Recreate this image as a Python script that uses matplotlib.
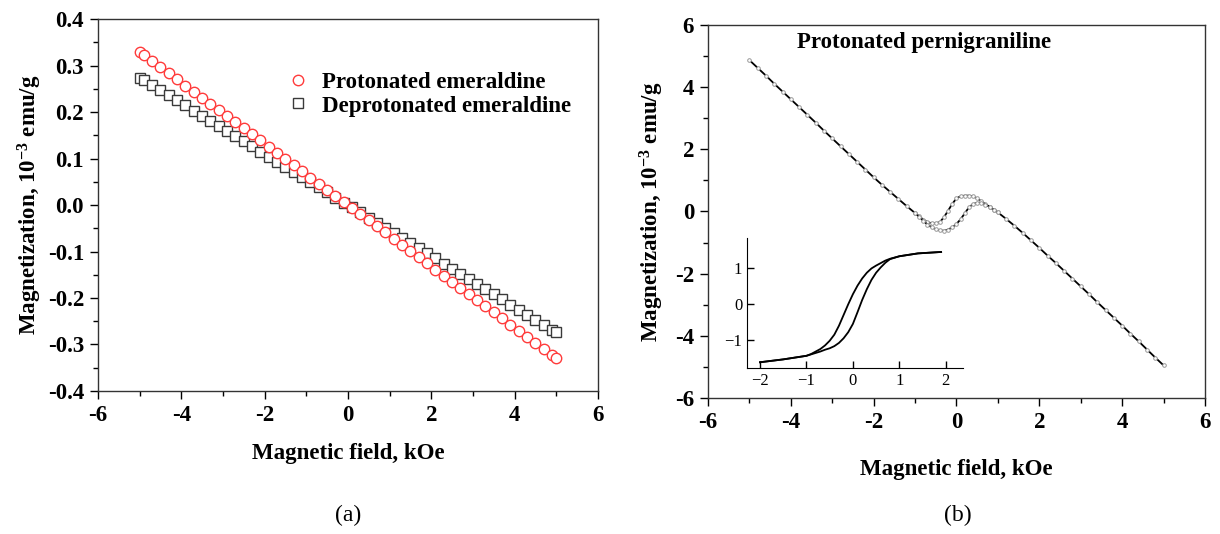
import matplotlib
matplotlib.use("Agg")
import matplotlib.pyplot as plt
from matplotlib.ticker import MultipleLocator, FormatStrFormatter

plt.rcParams['font.family'] = ['Liberation Serif', 'DejaVu Serif']
plt.rcParams['mathtext.fontset'] = 'custom'
plt.rcParams['mathtext.rm'] = 'Liberation Serif:bold'
plt.rcParams['mathtext.bf'] = 'Liberation Serif:bold'
plt.rcParams['mathtext.default'] = 'bf'
plt.rcParams['axes.unicode_minus'] = False

# ---------------- Panel (a) data ----------------
field_a = [-5.0, -4.9, -4.7, -4.5, -4.3, -4.1, -3.9, -3.7, -3.5, -3.3, -3.1, -2.9, -2.7,
           -2.5, -2.3, -2.1, -1.9, -1.7, -1.5, -1.3, -1.1, -0.9, -0.7, -0.5, -0.3, -0.1,
           0.1, 0.3, 0.5, 0.7, 0.9, 1.1, 1.3, 1.5, 1.7, 1.9, 2.1, 2.3, 2.5, 2.7, 2.9,
           3.1, 3.3, 3.5, 3.7, 3.9, 4.1, 4.3, 4.5, 4.7, 4.9, 5.0]
protonated = [0.330, 0.323, 0.310, 0.297, 0.284, 0.271, 0.257, 0.244, 0.231, 0.218, 0.205,
              0.191, 0.178, 0.165, 0.152, 0.139, 0.125, 0.112, 0.099, 0.086, 0.073, 0.059,
              0.046, 0.033, 0.020, 0.007,
              -0.007, -0.020, -0.033, -0.046, -0.059, -0.073, -0.086, -0.099, -0.112,
              -0.125, -0.139, -0.152, -0.165, -0.178, -0.191, -0.205, -0.218, -0.231,
              -0.244, -0.257, -0.271, -0.284, -0.297, -0.310, -0.323, -0.330]
deprotonated = [0.274, 0.269, 0.258, 0.247, 0.236, 0.225, 0.214, 0.203, 0.192, 0.181, 0.170,
                0.159, 0.148, 0.137, 0.126, 0.115, 0.104, 0.093, 0.082, 0.071, 0.060, 0.049,
                0.038, 0.027, 0.016, 0.005,
                -0.005, -0.016, -0.027, -0.038, -0.049, -0.060, -0.071, -0.082, -0.093,
                -0.104, -0.115, -0.126, -0.137, -0.148, -0.159, -0.170, -0.181, -0.192,
                -0.203, -0.214, -0.225, -0.236, -0.247, -0.258, -0.269, -0.274]
labels_a = ['Protonated emeraldine', 'Deprotonated emeraldine']

# ---------------- Panel (b) data ----------------
field_b_left = [-5.0, -4.8, -4.6, -4.4, -4.2, -4.0, -3.8, -3.6, -3.4, -3.2, -3.0, -2.8, -2.6,
                -2.4, -2.2, -2.0, -1.8, -1.6, -1.4, -1.2]
mag_b_left = [4.87, 4.62, 4.37, 4.11, 3.86, 3.61, 3.36, 3.11, 2.86, 2.60, 2.35, 2.10, 1.85,
              1.60, 1.35, 1.10, 0.86, 0.63, 0.40, 0.17]
field_b_loop = [-1.0, -0.9, -0.8, -0.7, -0.6, -0.5, -0.4, -0.3, -0.2, -0.1, 0.0,
                0.1, 0.2, 0.3, 0.4, 0.5, 0.6, 0.7, 0.8, 0.9, 1.0]
mag_b_upper = [-0.05, -0.16, -0.26, -0.34, -0.38, -0.38, -0.34, -0.18, 0.03, 0.25, 0.42,
               0.49, 0.51, 0.51, 0.49, 0.42, 0.33, 0.24, 0.15, 0.06, -0.03]
mag_b_lower = [-0.05, -0.17, -0.30, -0.42, -0.51, -0.57, -0.61, -0.62, -0.58, -0.51, -0.40,
               -0.25, -0.06, 0.13, 0.24, 0.28, 0.27, 0.22, 0.15, 0.06, -0.03]
field_b_right = [1.2, 1.4, 1.6, 1.8, 2.0, 2.2, 2.4, 2.6, 2.8, 3.0, 3.2, 3.4, 3.6, 3.8, 4.0,
                 4.2, 4.4, 4.6, 4.8, 5.0]
mag_b_right = [-0.24, -0.46, -0.69, -0.93, -1.17, -1.42, -1.66, -1.91, -2.16, -2.41, -2.66,
               -2.92, -3.17, -3.42, -3.67, -3.93, -4.18, -4.44, -4.70, -4.95]
title_b = 'Protonated pernigraniline'

# inset (ferromagnetic component)
field_in = [-2.0, -1.5, -1.0, -0.9, -0.8, -0.7, -0.6, -0.5, -0.4, -0.3, -0.2, -0.1, 0.0,
            0.1, 0.2, 0.3, 0.4, 0.5, 0.6, 0.7, 0.8, 1.0, 1.4, 1.9]
mag_in_upper = [-1.62, -1.54, -1.44, -1.39, -1.32, -1.25, -1.15, -1.02, -0.85, -0.60, -0.30,
                0.00, 0.28, 0.52, 0.72, 0.88, 1.00, 1.08, 1.15, 1.22, 1.27, 1.34, 1.42, 1.46]
mag_in_lower = [-1.62, -1.54, -1.44, -1.40, -1.36, -1.32, -1.27, -1.23, -1.17, -1.08, -0.95,
                -0.78, -0.55, -0.22, 0.12, 0.42, 0.68, 0.88, 1.03, 1.16, 1.26, 1.34, 1.42, 1.46]
inset_xticks = [-2, -1, 0, 1, 2]
inset_xticklabels = ['\u22122', '\u22121', '0', '1', '2']
inset_yticks = [-1, 0, 1]
inset_yticklabels = ['\u22121', '0', '1']

xlabel = 'Magnetic field, kOe'
ylabel = r'Magnetization, 10$^{-3}$ emu/g'

fig = plt.figure(figsize=(12.2, 5.34), dpi=100)

TICK_FS = 16.5
LABEL_FS = 16.5
LEGEND_FS = 16.5


def style_axes(ax):
    ax.tick_params(which='both', direction='out', top=False, right=False,
                   labelsize=TICK_FS, width=1.0, pad=4)
    ax.tick_params(which='major', length=6)
    ax.tick_params(which='minor', length=3.5)
    for lab in ax.get_xticklabels() + ax.get_yticklabels():
        lab.set_fontweight('bold')
    for sp in ax.spines.values():
        sp.set_linewidth(1.0)
        sp.set_color('#333333')


# ---------------- Panel (a) ----------------
ax1 = fig.add_axes([0.0803, 0.2678, 0.4098, 0.6966])
ax1.plot(field_a, protonated, linestyle='none', marker='o', markersize=7.5,
         markerfacecolor='white', markeredgecolor='#ff3b3b', markeredgewidth=1.0,
         label=labels_a[0], zorder=3)
ax1.plot(field_a, deprotonated, linestyle='none', marker='s', markersize=6.5,
         markerfacecolor='white', markeredgecolor='#3a3a3a', markeredgewidth=1.0,
         label=labels_a[1], zorder=2)
ax1.set_xlim(-6, 6)
ax1.set_ylim(-0.4, 0.4)
ax1.xaxis.set_major_locator(MultipleLocator(2))
ax1.xaxis.set_minor_locator(MultipleLocator(1))
ax1.yaxis.set_major_locator(MultipleLocator(0.1))
ax1.yaxis.set_minor_locator(MultipleLocator(0.05))
ax1.yaxis.set_major_formatter(FormatStrFormatter('%.1f'))
style_axes(ax1)
ax1.set_xlabel(xlabel, fontsize=LABEL_FS, fontweight='bold', labelpad=12)
ax1.set_ylabel(ylabel, fontsize=LABEL_FS, fontweight='bold', labelpad=3)
leg = ax1.legend(loc='upper left', bbox_to_anchor=(0.355, 0.888), frameon=False,
                 prop={'family': 'Liberation Serif', 'weight': 'bold', 'size': LEGEND_FS},
                 handlelength=1.0, handletextpad=0.55, labelspacing=0.1, borderpad=0.0)

# ---------------- Panel (b) ----------------
ax2 = fig.add_axes([0.5803, 0.2547, 0.4074, 0.6985])
main_field = field_b_left + field_b_loop + field_b_right
main_mag = mag_b_left + mag_b_upper + mag_b_right
line_kw = dict(color='black', linewidth=1.3, marker='o', markersize=2.6,
               markerfacecolor='white', markeredgecolor='#9a9a9a', markeredgewidth=0.7)
ax2.plot(main_field, main_mag, **line_kw)
ax2.plot(field_b_loop, mag_b_lower, **line_kw)
ax2.set_xlim(-6, 6)
ax2.set_ylim(-6, 6)
ax2.xaxis.set_major_locator(MultipleLocator(2))
ax2.xaxis.set_minor_locator(MultipleLocator(1))
ax2.yaxis.set_major_locator(MultipleLocator(2))
ax2.yaxis.set_minor_locator(MultipleLocator(1))
style_axes(ax2)
ax2.set_xlabel(xlabel, fontsize=LABEL_FS, fontweight='bold', labelpad=19)
ax2.set_ylabel(ylabel, fontsize=LABEL_FS, fontweight='bold', labelpad=6)
ax2.text(0.435, 0.952, title_b, transform=ax2.transAxes, ha='center', va='center',
         fontsize=LABEL_FS, fontweight='bold')

# inset
ax3 = fig.add_axes([0.6123, 0.3109, 0.177, 0.2434])
ax3.plot(field_in, mag_in_upper, color='black', linewidth=1.3)
ax3.plot(field_in, mag_in_lower, color='black', linewidth=1.3)
ax3.set_xlim(-2.28, 2.37)
ax3.set_ylim(-1.78, 1.85)
ax3.set_xticks(inset_xticks)
ax3.set_xticklabels(inset_xticklabels)
ax3.set_yticks(inset_yticks)
ax3.set_yticklabels(inset_yticklabels)
ax3.spines['top'].set_visible(False)
ax3.spines['right'].set_visible(False)
ax3.tick_params(direction='in', length=5, width=1.0, labelsize=12)
ax3.patch.set_alpha(0.0)

# panel captions
fig.text(348 / 1220, 1 - 515 / 534, '(a)', ha='center', va='center', fontsize=17)
fig.text(958 / 1220, 1 - 515 / 534, '(b)', ha='center', va='center', fontsize=17)

fig.savefig('out.png', dpi=100)
